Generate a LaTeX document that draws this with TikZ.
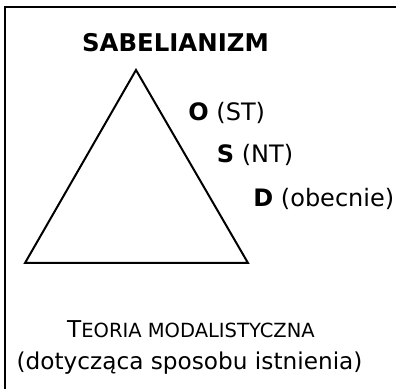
\documentclass[tikz,border=0pt]{standalone}
\usepackage{fontspec}
\setmainfont{DejaVu Sans}
\usetikzlibrary{positioning}
\tikzset{
  frame/.style = {line width=1.1pt, line cap=rect},
  triang/.style = {line width=1pt, line join=miter},
  title/.style = {anchor=base, inner sep=0pt, font=\fontsize{12.2}{14}\selectfont\bfseries},% tytul
  side/.style = {anchor=base west, inner sep=0pt, font=\fontsize{12}{14}\selectfont},% O, S, D
  caption/.style = {anchor=base, inner sep=0pt, font=\fontsize{11.6}{14}\selectfont}% podpis
}
\newcommand{\fakesc}[2]{#1{\fontsize{9.75}{12}\selectfont #2}}

\begin{document}
\begin{tikzpicture}[x=0.5pt,y=-0.5pt]
\useasboundingbox (0,0) rectangle (396,389);
% ramka (tylko gora i lewa strona)
\coordinate (fbl) at (5,392);
\coordinate (ftl) at (5,7);
\coordinate (ftr) at (400,7);
\draw[frame] (fbl) -- (ftl) -- (ftr);
% trojkat
\coordinate (apex) at (136,70);
\coordinate (bl) at (25,263);
\coordinate (br) at (248,263);
\draw[triang] (bl) -- (apex) -- (br) -- cycle;
\node[title] (sab) at (175.5,52) {SABELIANIZM};
\node[side] (o) at (188,120.5) {\textbf{O} (ST)};
\node[side] (s) at (216.5,163) {\textbf{S} (NT)};
\node[side] (d) at (253,207) {\textbf{D} (obecnie)};
\node[caption] (teoria) at (191,338) {\fakesc{T}{EORIA MODALISTYCZNA}};
\node[caption] (dotyczy) at (189.5,370) {(dotycząca sposobu istnienia)};
\end{tikzpicture}
\end{document}
